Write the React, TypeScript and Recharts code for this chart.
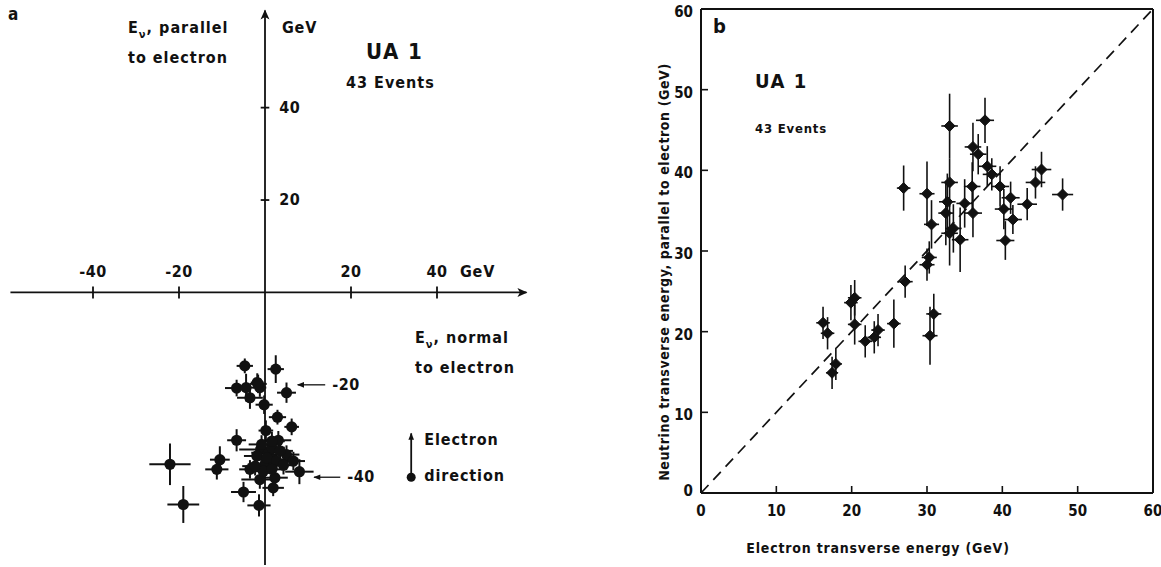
import {
  ScatterChart,
  Scatter,
  XAxis,
  YAxis,
  ErrorBar,
  ReferenceLine,
} from "recharts";

const FONT = "'DejaVu Sans Condensed', 'DejaVu Sans', sans-serif";
const INK = "#111";

// panel a: neutrino momentum split into normal / parallel to the electron (GeV)
const aNormal = [
  -4.7, 2.5, 5.0, -6.6, -4.4, -1.8, -1.2, -3.5, -0.2, 2.9, 6.2, 0.2, -6.6, 3.1,
  -1.0, 0.8, 5.0, -10.5, -22.1, -11.2, -3.5, 0.0, 1.9, 6.6, 8.0, -1.2, 2.3, 1.9,
  -5.0, -19.0, -1.4, -0.8, 1.6, 3.5, -1.9, 0.4, 2.7, -0.4, -2.3, 4.3, 1.6, -1.6,
  1.6,
];
const aParallel = [
  -15.9, -16.6, -21.7, -20.7, -20.6, -19.5, -20.6, -22.8, -24.3, -27.0, -29.1,
  -29.9, -32.0, -32.0, -34.0, -34.7, -35.1, -36.2, -37.2, -38.3, -38.3, -37.2,
  -36.2, -36.5, -38.8, -40.5, -40.1, -42.3, -43.2, -45.9, -46.1, -32.9, -33.6,
  -34.3, -35.4, -35.8, -36.5, -38.7, -37.6, -37.4, -32.2, -19.8, -38.3,
];
const aErrNormal = [
  1.9, 1.9, 2.2, 2.7, 2.0, 1.5, 1.5, 3.0, 2.0, 2.0, 1.7, 1.7, 2.2, 3.0, 5.0, 4.0,
  3.0, 2.3, 4.8, 2.7, 2.5, 4.0, 4.0, 2.7, 3.3, 4.3, 3.0, 2.5, 2.9, 3.7, 2.7, 3.0,
  3.0, 3.0, 3.0, 3.0, 3.0, 3.0, 3.0, 3.0, 3.0, 2.0, 3.0,
];
const aErrParallel = [
  1.6, 3.0, 2.2, 1.8, 3.0, 2.0, 2.0, 2.4, 2.0, 1.6, 1.8, 2.2, 2.4, 2.0, 2.0, 2.0,
  2.0, 2.9, 4.5, 2.2, 2.0, 2.0, 2.0, 2.0, 2.7, 2.0, 2.0, 1.8, 2.2, 4.0, 2.4, 2.0,
  2.0, 2.0, 2.0, 2.0, 2.0, 2.0, 2.0, 2.0, 2.0, 2.0, 2.0,
];
const aTicksX = [-40, -20, 20, 40];
const aTicksY = [20, 40];
const aPointers = [
  { y: -20, from: 14, to: 7.6, label: "-20" },
  { y: -40, from: 17.5, to: 11.4, label: "-40" },
];

// panel b: neutrino vs electron transverse energy (GeV)
const bElectron = [
  16.2, 16.8, 17.4, 17.9, 19.9, 20.4, 20.4, 21.8, 23.0, 23.5, 25.6, 27.1, 26.9,
  30.0, 30.3, 30.4, 30.9, 30.0, 30.6, 32.5, 32.7, 33.0, 33.0, 33.0, 33.5, 34.4,
  35.0, 36.0, 36.1, 36.1, 36.8, 37.7, 38.0, 38.6, 39.7, 40.2, 40.4, 41.1, 41.4,
  43.3, 44.4, 45.2, 48.0,
];
const bNeutrino = [
  21.1, 19.8, 14.9, 16.0, 23.6, 24.2, 20.9, 18.8, 19.3, 20.2, 21.0, 26.2, 37.8,
  28.3, 29.2, 19.5, 22.2, 37.1, 33.3, 34.7, 36.1, 38.5, 45.5, 32.2, 32.8, 31.4,
  35.9, 38.0, 34.7, 42.9, 42.0, 46.2, 40.5, 39.5, 38.0, 35.2, 31.3, 36.6, 33.9,
  35.8, 38.5, 40.1, 37.0,
];
const bErrElectron = [
  0.9, 0.9, 0.8, 0.8, 0.9, 0.9, 0.9, 0.9, 0.9, 0.9, 0.9, 1.0, 0.9, 1.0, 1.0, 1.0,
  1.0, 1.0, 1.0, 1.0, 1.1, 1.1, 1.1, 1.1, 1.1, 1.1, 1.1, 1.1, 1.2, 1.1, 1.1, 1.2,
  1.2, 1.2, 1.2, 1.2, 1.2, 1.2, 1.2, 1.3, 1.3, 1.3, 1.4,
];
const bErrNeutrino = [
  2.0, 2.0, 2.0, 2.0, 2.2, 2.2, 2.5, 2.0, 2.0, 2.0, 3.0, 2.0, 2.8, 2.0, 2.0, 3.6,
  2.5, 4.0, 3.0, 4.0, 3.5, 3.0, 4.0, 4.0, 3.0, 4.0, 3.0, 3.0, 3.0, 3.0, 2.5, 2.8,
  2.5, 2.0, 2.5, 2.5, 2.4, 2.0, 1.8, 2.0, 2.0, 2.2, 2.0,
];
const bTicks = [0, 10, 20, 30, 40, 50, 60];

const aData = aNormal.map((x, i) => ({
  x,
  y: aParallel[i],
  ex: aErrNormal[i],
  ey: aErrParallel[i],
}));
const bData = bElectron.map((x, i) => ({
  x,
  y: bNeutrino[i],
  ex: bErrElectron[i],
  ey: bErrNeutrino[i],
}));

const textStyle = { fontFamily: FONT, fill: INK, fontWeight: "bold" as const };

const Dot = (p: any) => <circle cx={p.cx} cy={p.cy} r={5.6} fill={INK} />;
const Diamond = (p: any) => (
  <path
    d={`M${p.cx},${p.cy - 5.5} L${p.cx + 5.5},${p.cy} L${p.cx},${p.cy + 5.5} L${p.cx - 5.5},${p.cy} Z`}
    fill={INK}
    stroke={INK}
    strokeWidth={1}
    strokeLinejoin="round"
  />
);

const arrowLine = (marker: string, width = 1.8) => (p: any) => (
  <line
    x1={p.x1}
    y1={p.y1}
    x2={p.x2}
    y2={p.y2}
    stroke={INK}
    strokeWidth={width}
    markerEnd={`url(#${marker})`}
  />
);

const BottomTick = ({ x, y, payload }: any) => {
  const v = payload.value;
  return (
    <g>
      {v > 0 && v < 60 && (
        <line x1={x} x2={x} y1={y} y2={y - 7} stroke={INK} strokeWidth={1.6} />
      )}
      <text x={x} y={y + 23} textAnchor="middle" fontSize={15} {...textStyle}>
        {v}
      </text>
    </g>
  );
};

const LeftTick = ({ x, y, payload }: any) => {
  const v = payload.value;
  return (
    <g>
      {v > 0 && v < 60 && (
        <line x1={x} x2={x + 7} y1={y} y2={y} stroke={INK} strokeWidth={1.6} />
      )}
      <text
        x={x - 8}
        y={v === 0 ? y + 3 : y + 8}
        textAnchor="end"
        fontSize={15}
        {...textStyle}
      >
        {v}
      </text>
    </g>
  );
};

const PanelA = () => (
  <ScatterChart
    width={560}
    height={567}
    margin={{ top: 6, right: 15.5, bottom: 2, left: 7 }}
  >
    <defs>
      <marker
        id="headBig"
        viewBox="0 0 10 10"
        refX="9"
        refY="5"
        markerWidth="12"
        markerHeight="10"
        markerUnits="userSpaceOnUse"
        orient="auto"
      >
        <path d="M0,0.5 L10,5 L0,9.5 L2.5,5 Z" fill={INK} />
      </marker>
      <marker
        id="headSmall"
        viewBox="0 0 10 10"
        refX="9"
        refY="5"
        markerWidth="8"
        markerHeight="7"
        markerUnits="userSpaceOnUse"
        orient="auto"
      >
        <path d="M0,1 L10,5 L0,9 Z" fill={INK} />
      </marker>
    </defs>
    <XAxis type="number" dataKey="x" domain={[-60, 65]} hide />
    <YAxis type="number" dataKey="y" domain={[-59, 62]} hide />

    <ReferenceLine
      segment={[
        { x: -59.2, y: 0 },
        { x: 60.8, y: 0 },
      ]}
      shape={arrowLine("headBig")}
    />
    <ReferenceLine
      segment={[
        { x: 0, y: -59 },
        { x: 0, y: 61 },
      ]}
      shape={arrowLine("headBig")}
    />

    {aTicksX.map((v) => (
      <ReferenceLine
        key={`tx${v}`}
        segment={[
          { x: v, y: -1.3 },
          { x: v, y: 1.3 },
        ]}
        shape={(p: any) => (
          <g>
            <line
              x1={p.x1}
              x2={p.x2}
              y1={p.y1}
              y2={p.y2}
              stroke={INK}
              strokeWidth={1.8}
            />
            <text
              x={p.x1}
              y={Math.min(p.y1, p.y2) - 9}
              textAnchor="middle"
              fontSize={16}
              letterSpacing={0.5}
              {...textStyle}
            >
              {v}
            </text>
            {v === 40 && (
              <text
                x={p.x1 + 23}
                y={Math.min(p.y1, p.y2) - 9}
                fontSize={16}
                letterSpacing={0.8}
                {...textStyle}
              >
                GeV
              </text>
            )}
          </g>
        )}
      />
    ))}
    {aTicksY.map((v) => (
      <ReferenceLine
        key={`ty${v}`}
        segment={[
          { x: -1, y: v },
          { x: 1, y: v },
        ]}
        shape={(p: any) => (
          <g>
            <line
              x1={p.x1}
              x2={p.x2}
              y1={p.y1}
              y2={p.y2}
              stroke={INK}
              strokeWidth={1.8}
            />
            <text
              x={Math.max(p.x1, p.x2) + 10}
              y={p.y1 + 5}
              fontSize={16}
              letterSpacing={0.5}
              {...textStyle}
            >
              {v}
            </text>
          </g>
        )}
      />
    ))}

    {aPointers.map((a) => (
      <ReferenceLine
        key={a.label}
        segment={[
          { x: a.from, y: a.y },
          { x: a.to, y: a.y },
        ]}
        shape={(p: any) => (
          <g>
            <line
              x1={p.x1}
              x2={p.x2}
              y1={p.y1}
              y2={p.y2}
              stroke={INK}
              strokeWidth={1.3}
              markerEnd="url(#headSmall)"
            />
            <text
              x={p.x1 + 7}
              y={p.y1 + 5}
              fontSize={16}
              letterSpacing={0.5}
              {...textStyle}
            >
              {a.label}
            </text>
          </g>
        )}
      />
    ))}

    <ReferenceLine
      segment={[
        { x: 34, y: -40 },
        { x: 34, y: -30.5 },
      ]}
      shape={(p: any) => (
        <g>
          <circle cx={p.x1} cy={p.y1} r={4.5} fill={INK} />
          <line
            x1={p.x1}
            x2={p.x2}
            y1={p.y1}
            y2={p.y2}
            stroke={INK}
            strokeWidth={1.8}
            markerEnd="url(#headSmall)"
          />
          <text x={p.x1 + 13} y={p.y2 + 12} fontSize={16} letterSpacing={0.9} {...textStyle}>
            Electron
          </text>
          <text x={p.x1 + 13} y={p.y1 + 4} fontSize={16} letterSpacing={0.9} {...textStyle}>
            direction
          </text>
        </g>
      )}
    />

    <Scatter
      data={aData}
      fill={INK}
      shape={Dot}
      legendType="none"
      isAnimationActive={false}
    >
      <ErrorBar dataKey="ex" direction="x" width={0} stroke={INK} strokeWidth={2} />
      <ErrorBar dataKey="ey" direction="y" width={0} stroke={INK} strokeWidth={2} />
    </Scatter>

    <text x={8} y={20} fontSize={17} {...textStyle}>
      a
    </text>
    <text x={128} y={33} fontSize={16} letterSpacing={1} {...textStyle}>
      E
      <tspan fontSize={11} dy={5}>
        ν
      </tspan>
      <tspan dy={-5}>, parallel</tspan>
    </text>
    <text x={128} y={63} fontSize={16} letterSpacing={1} {...textStyle}>
      to electron
    </text>
    <text x={282} y={33} fontSize={16} letterSpacing={0.8} {...textStyle}>
      GeV
    </text>
    <text x={366} y={59} fontSize={22} letterSpacing={1.5} {...textStyle}>
      UA 1
    </text>
    <text x={346} y={88} fontSize={16} letterSpacing={1} {...textStyle}>
      43 Events
    </text>
    <text x={415} y={343} fontSize={16} letterSpacing={1} {...textStyle}>
      E
      <tspan fontSize={11} dy={5}>
        ν
      </tspan>
      <tspan dy={-5}>, normal</tspan>
    </text>
    <text x={415} y={373} fontSize={16} letterSpacing={1} {...textStyle}>
      to electron
    </text>
  </ScatterChart>
);

const PanelB = () => (
  <ScatterChart
    width={521}
    height={567}
    margin={{ top: 9, right: 8, bottom: 34, left: 21 }}
  >
    <XAxis
      type="number"
      dataKey="x"
      domain={[0, 60]}
      ticks={bTicks}
      height={40}
      tickSize={0}
      tickMargin={0}
      tickLine={false}
      axisLine={{ stroke: INK, strokeWidth: 2 }}
      tick={<BottomTick />}
      interval={0}
    />
    <YAxis
      type="number"
      dataKey="y"
      domain={[0, 60]}
      ticks={bTicks}
      width={40}
      tickSize={0}
      tickMargin={0}
      tickLine={false}
      axisLine={{ stroke: INK, strokeWidth: 2 }}
      tick={<LeftTick />}
      interval={0}
    />
    <ReferenceLine y={60} stroke={INK} strokeWidth={1.8} />
    <ReferenceLine x={60} stroke={INK} strokeWidth={2} />
    <ReferenceLine
      segment={[
        { x: 0, y: 0 },
        { x: 60, y: 60 },
      ]}
      stroke={INK}
      strokeWidth={1.7}
      strokeDasharray="11 7"
    />
    <Scatter
      data={bData}
      fill={INK}
      shape={Diamond}
      legendType="none"
      isAnimationActive={false}
    >
      <ErrorBar dataKey="ex" direction="x" width={0} stroke={INK} strokeWidth={1.6} />
      <ErrorBar dataKey="ey" direction="y" width={0} stroke={INK} strokeWidth={1.6} />
    </Scatter>

    <text x={73} y={33} fontSize={20} {...textStyle}>
      b
    </text>
    <text x={115} y={88} fontSize={20} letterSpacing={1.5} {...textStyle}>
      UA 1
    </text>
    <text x={115} y={133} fontSize={13} letterSpacing={0.8} {...textStyle}>
      43 Events
    </text>
    <text
      x={238}
      y={553}
      textAnchor="middle"
      fontSize={14}
      letterSpacing={0.8}
      {...textStyle}
    >
      Electron transverse energy (GeV)
    </text>
    <text
      x={29}
      y={272}
      textAnchor="middle"
      fontSize={14}
      letterSpacing={0.6}
      transform="rotate(-90 29 272)"
      {...textStyle}
    >
      Neutrino transverse energy, parallel to electron (GeV)
    </text>
  </ScatterChart>
);

export default function App() {
  return (
    <div
      style={{
        position: "absolute",
        left: 0,
        top: 0,
        width: 1161,
        height: 567,
        background: "#fff",
        overflow: "hidden",
      }}
    >
      <div style={{ position: "absolute", left: 0, top: 0 }}>
        <PanelA />
      </div>
      <div style={{ position: "absolute", left: 640, top: 0 }}>
        <PanelB />
      </div>
    </div>
  );
}
